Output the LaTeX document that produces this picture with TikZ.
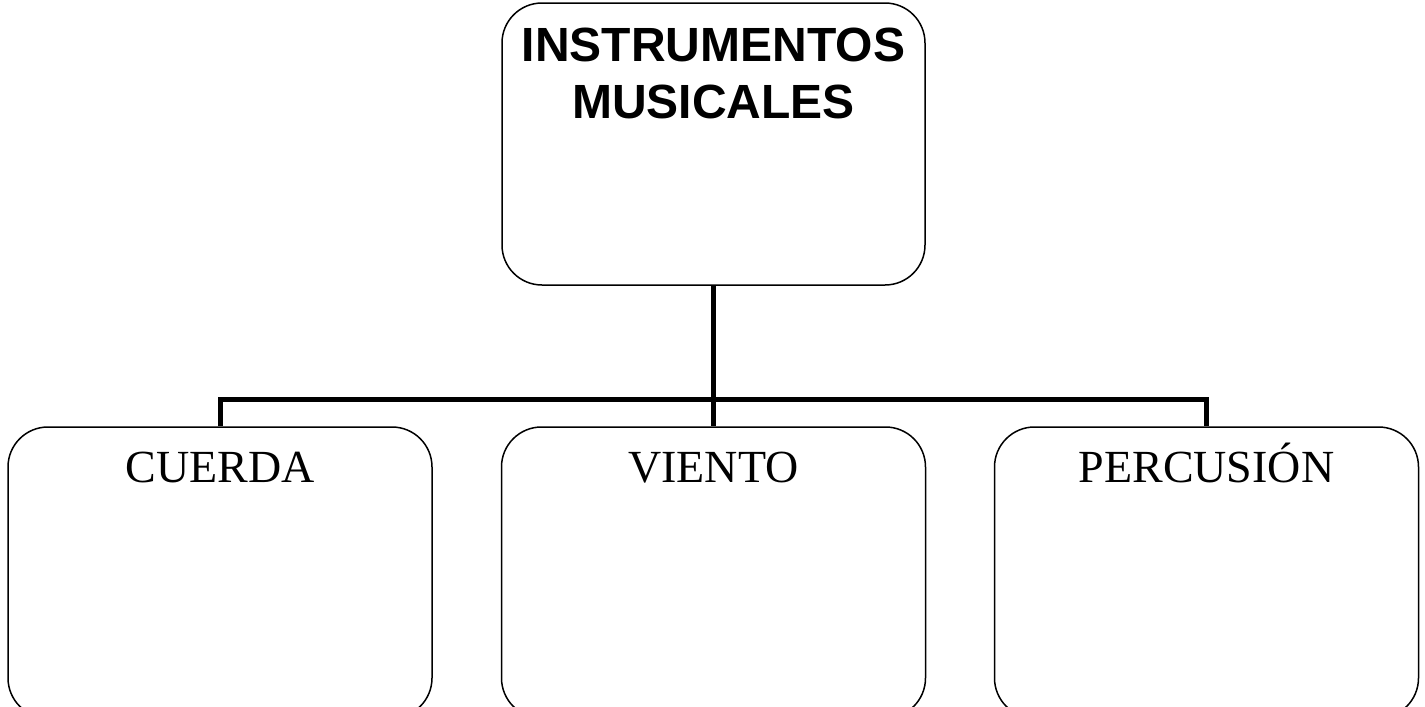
\documentclass[tikz,border=0pt]{standalone}
\usepackage{fontspec}
\setmainfont{Liberation Serif}
\newfontfamily\headfont{Liberation Sans}
\usetikzlibrary{positioning}

\begin{document}
\begin{tikzpicture}[x=0.5pt, y=-0.5pt,
        box/.style={draw, line width=0.75pt, rounded corners=20pt, inner sep=0pt},
        boxtext/.style={anchor=north, inner sep=0pt, yshift=-12.5pt, align=center},
        link/.style={line width=2.5pt}]
    \useasboundingbox (0,0) rectangle (1425,707);
    % top box
    \node[box, minimum width=211.5pt, minimum height=141pt] (top) at (713.5,144) {};
    \node[boxtext, font=\headfont\bfseries\fontsize{24}{28.5}\selectfont] (toptext) at (top.north) {INSTRUMENTOS\\MUSICALES};
    % bottom boxes
    \node[box, minimum width=212pt, minimum height=145.5pt] (cuerda) at (220,572.5) {};
    \node[box, minimum width=212pt, minimum height=145.5pt] (viento) at (713.5,572.5) {};
    \node[box, minimum width=212pt, minimum height=145.5pt] (percusion) at (1206.5,572.5) {};
    \node[boxtext, text height=15.2pt, font=\fontsize{23}{27}\selectfont] (cuerdatext) at (cuerda.north) {CUERDA};
    \node[boxtext, text height=15.2pt, font=\fontsize{23}{27}\selectfont] (vientotext) at (viento.north) {VIENTO};
    \node[boxtext, text height=15.2pt, font=\fontsize{23}{27}\selectfont] (percusiontext) at (percusion.north) {PERCUSIÓN};
    % connectors
    \coordinate (bus) at (713.5,399);
    \draw[link] (top.south) -- (viento.north);
    \draw[link] (cuerda.north) |- (bus) -| (percusion.north);
\end{tikzpicture}
\end{document}
